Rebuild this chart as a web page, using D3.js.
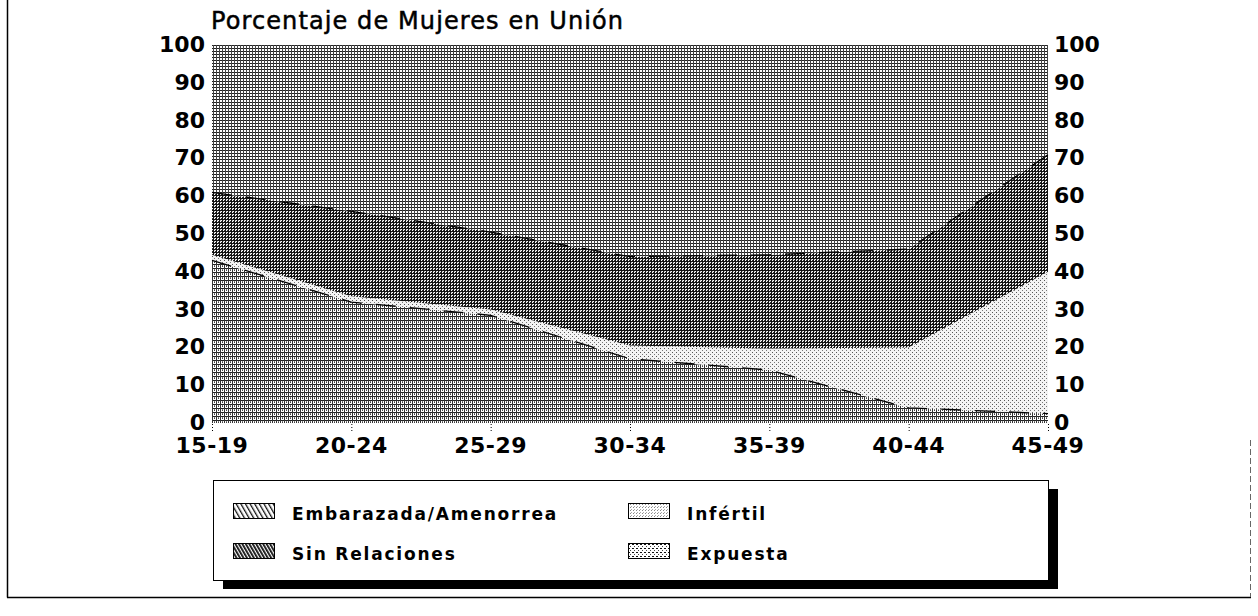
<!DOCTYPE html>
<html>
<head>
<meta charset="utf-8">
<script src="https://cdn.jsdelivr.net/npm/d3@7"></script>
<style>
  body { margin: 0; background: #fff; }
  text { font-family: "DejaVu Sans", sans-serif; fill: #000; }
</style>
</head>
<body>
<svg id="chart" width="1258" height="616"></svg>
<script>
// Mujeres en unión por estado de exposición, según grupo de edad

var grupos = ["15-19", "20-24", "25-29", "30-34", "35-39", "40-44", "45-49"];

// porcentajes (apilados de abajo hacia arriba)
var embarazada    = [43, 32, 28.5, 17, 14, 4, 2.5];
var infertil      = [1.5, 1.5, 1.5, 3.5, 5.7, 16, 37.5];
var sinRelaciones = [16.5, 22.5, 20.5, 23.5, 24.8, 26, 31];
var expuesta      = [39, 44, 49.5, 56, 55.5, 54, 29];

var yTicks = [0, 10, 20, 30, 40, 50, 60, 70, 80, 90, 100];

var capas = [
  { key: "emb", nombre: "Embarazada/Amenorrea", valores: embarazada },
  { key: "inf", nombre: "Infértil", valores: infertil },
  { key: "sin", nombre: "Sin Relaciones", valores: sinRelaciones },
  { key: "exp", nombre: "Expuesta", valores: expuesta }
];

var svg = d3.select("#chart");

// tabla para d3.stack
var tabla = grupos.map(function(g, i) {
  var fila = { grupo: g };
  capas.forEach(function(c) { fila[c.key] = c.valores[i]; });
  return fila;
});

var x = d3.scalePoint().domain(grupos).range([212, 1048]);
var y = d3.scaleLinear().domain([0, 100]).range([423, 45]);

// ---- patrones (trama de pantalla en gris) ----
var defs = svg.append("defs");

function patron(id, size, bg, pix) {
  var p = defs.append("pattern")
    .attr("id", id)
    .attr("patternUnits", "userSpaceOnUse")
    .attr("width", size).attr("height", size);
  p.append("rect").attr("width", size).attr("height", size).attr("fill", bg);
  pix.forEach(function(r) {
    p.append("rect")
      .attr("x", r[0]).attr("y", r[1])
      .attr("width", r[2]).attr("height", r[3])
      .attr("fill", r[4] || "#111")
      .attr("shape-rendering", "crispEdges");
  });
}

// relleno del área
patron("p-exp", 3, "#fff", [[0, 0, 3, 1, "#222"], [0, 0, 1, 3, "#444"]]);
patron("p-sin", 3, "#fff", [[0, 0, 3, 1], [0, 0, 1, 3], [2, 2, 1, 1, "#333"], [1, 1, 1, 1, "#bbb"]]);
patron("p-emb", 4, "#fff", [[0, 0, 4, 1, "#222"], [0, 0, 1, 4, "#333"], [2, 2, 1, 1, "#444"], [2, 1, 1, 1, "#777"]]);
patron("p-inf", 4, "#f4f4f4", [[0, 0, 1, 1, "#555"], [2, 2, 1, 1, "#777"]]);

// muestras de la leyenda
function rayado(id, gap, w) {
  var p = defs.append("pattern")
    .attr("id", id)
    .attr("patternUnits", "userSpaceOnUse")
    .attr("width", gap).attr("height", gap)
    .attr("patternTransform", "rotate(-30)");
  p.append("rect").attr("width", gap).attr("height", gap).attr("fill", "#fff");
  p.append("rect").attr("width", w).attr("height", gap).attr("fill", "#111");
}
rayado("l-emb", 4, 1.3);
rayado("l-sin", 3, 1.8);
patron("l-inf", 3, "#fff", [[0, 0, 1, 1, "#888"], [1, 2, 1, 1, "#aaa"]]);
patron("l-exp", 4, "#fff", [[0, 0, 2, 1, "#111"], [2, 2, 1, 1, "#444"]]);

var relleno = { emb: "url(#p-emb)", inf: "url(#p-inf)", sin: "url(#p-sin)", exp: "url(#p-exp)" };
var muestra = { emb: "url(#l-emb)", inf: "url(#l-inf)", sin: "url(#l-sin)", exp: "url(#l-exp)" };

// ---- marco exterior ----
svg.append("line").attr("x1", 7.5).attr("x2", 7.5).attr("y1", 0).attr("y2", 597.5)
  .attr("stroke", "#000").attr("stroke-width", 1.5);
svg.append("line").attr("x1", 7).attr("x2", 1251).attr("y1", 597.5).attr("y2", 597.5)
  .attr("stroke", "#000").attr("stroke-width", 1.5);
svg.append("line").attr("x1", 1250.5).attr("x2", 1250.5).attr("y1", 440).attr("y2", 597)
  .attr("stroke", "#666").attr("stroke-width", 1).attr("stroke-dasharray", "6,3");

// ---- áreas apiladas ----
var stack = d3.stack().keys(capas.map(function(c) { return c.key; }));
var series = stack(tabla);

var area = d3.area()
  .x(function(d) { return x(d.data.grupo); })
  .y0(function(d) { return y(d[0]); })
  .y1(function(d) { return y(d[1]); });

svg.append("g").selectAll("path")
  .data(series)
  .enter().append("path")
    .attr("d", area)
    .attr("fill", function(d) { return relleno[d.key]; });

// bordes oscuros escalonados entre capas
var borde = d3.line()
  .x(function(d) { return x(d.data.grupo); })
  .y(function(d) { return y(d[1]); });

svg.append("g").selectAll("path")
  .data(series.filter(function(s) { return s.key == "sin" || s.key == "emb"; }))
  .enter().append("path")
    .attr("d", borde)
    .attr("fill", "none")
    .attr("stroke", "#000")
    .attr("stroke-width", 1.3)
    .attr("stroke-dasharray", "20,14");

// ---- ejes ----
svg.append("text")
  .attr("x", 211).attr("y", 29)
  .attr("font-size", 24)
  .attr("letter-spacing", 1.1)
  .attr("stroke", "#000").attr("stroke-width", 0.5)
  .text("Porcentaje de Mujeres en Unión");

var ejeY = svg.append("g");
ejeY.selectAll("text.izq")
  .data(yTicks)
  .enter().append("text")
    .attr("class", "izq")
    .attr("x", 205)
    .attr("y", function(d) { return y(d) - 1; })
    .attr("dy", "0.36em")
    .attr("text-anchor", "end")
    .attr("font-size", 22)
    .attr("font-weight", "bold")
    .text(function(d) { return d; });
ejeY.selectAll("text.der")
  .data(yTicks)
  .enter().append("text")
    .attr("class", "der")
    .attr("x", 1054)
    .attr("y", function(d) { return y(d) - 1; })
    .attr("dy", "0.36em")
    .attr("font-size", 22)
    .attr("font-weight", "bold")
    .text(function(d) { return d; });

var ejeX = svg.append("g");
ejeX.selectAll("line")
  .data(grupos)
  .enter().append("line")
    .attr("x1", function(d) { return x(d) + 0.5; })
    .attr("x2", function(d) { return x(d) + 0.5; })
    .attr("y1", 424).attr("y2", 432)
    .attr("stroke", "#000")
    .attr("stroke-dasharray", "1,2");
ejeX.selectAll("text")
  .data(grupos)
  .enter().append("text")
    .attr("x", function(d) { return x(d); })
    .attr("y", 453)
    .attr("text-anchor", "middle")
    .attr("font-size", 22)
    .attr("font-weight", "bold")
    .attr("letter-spacing", 0.5)
    .text(function(d) { return d; });

// ---- leyenda ----
var ley = svg.append("g");
ley.append("rect")
  .attr("x", 223).attr("y", 489).attr("width", 835).attr("height", 100)
  .attr("fill", "#000");
ley.append("rect")
  .attr("x", 213.5).attr("y", 480.5).attr("width", 835).attr("height", 100)
  .attr("fill", "#fff").attr("stroke", "#000").attr("stroke-width", 1);

var posLey = { emb: [233, 503], sin: [233, 543], inf: [628, 503], exp: [628, 543] };

capas.forEach(function(c) {
  var p = posLey[c.key];
  ley.append("rect")
    .attr("x", p[0] + 0.5).attr("y", p[1] + 0.5)
    .attr("width", 41).attr("height", 15)
    .attr("fill", muestra[c.key])
    .attr("stroke", "#000").attr("stroke-width", 1);
  ley.append("text")
    .attr("x", p[0] + 59).attr("y", p[1] + 17)
    .attr("font-size", 17)
    .attr("font-weight", "bold")
    .attr("letter-spacing", 1.8)
    .text(c.nombre);
});
</script>
</body>
</html>
